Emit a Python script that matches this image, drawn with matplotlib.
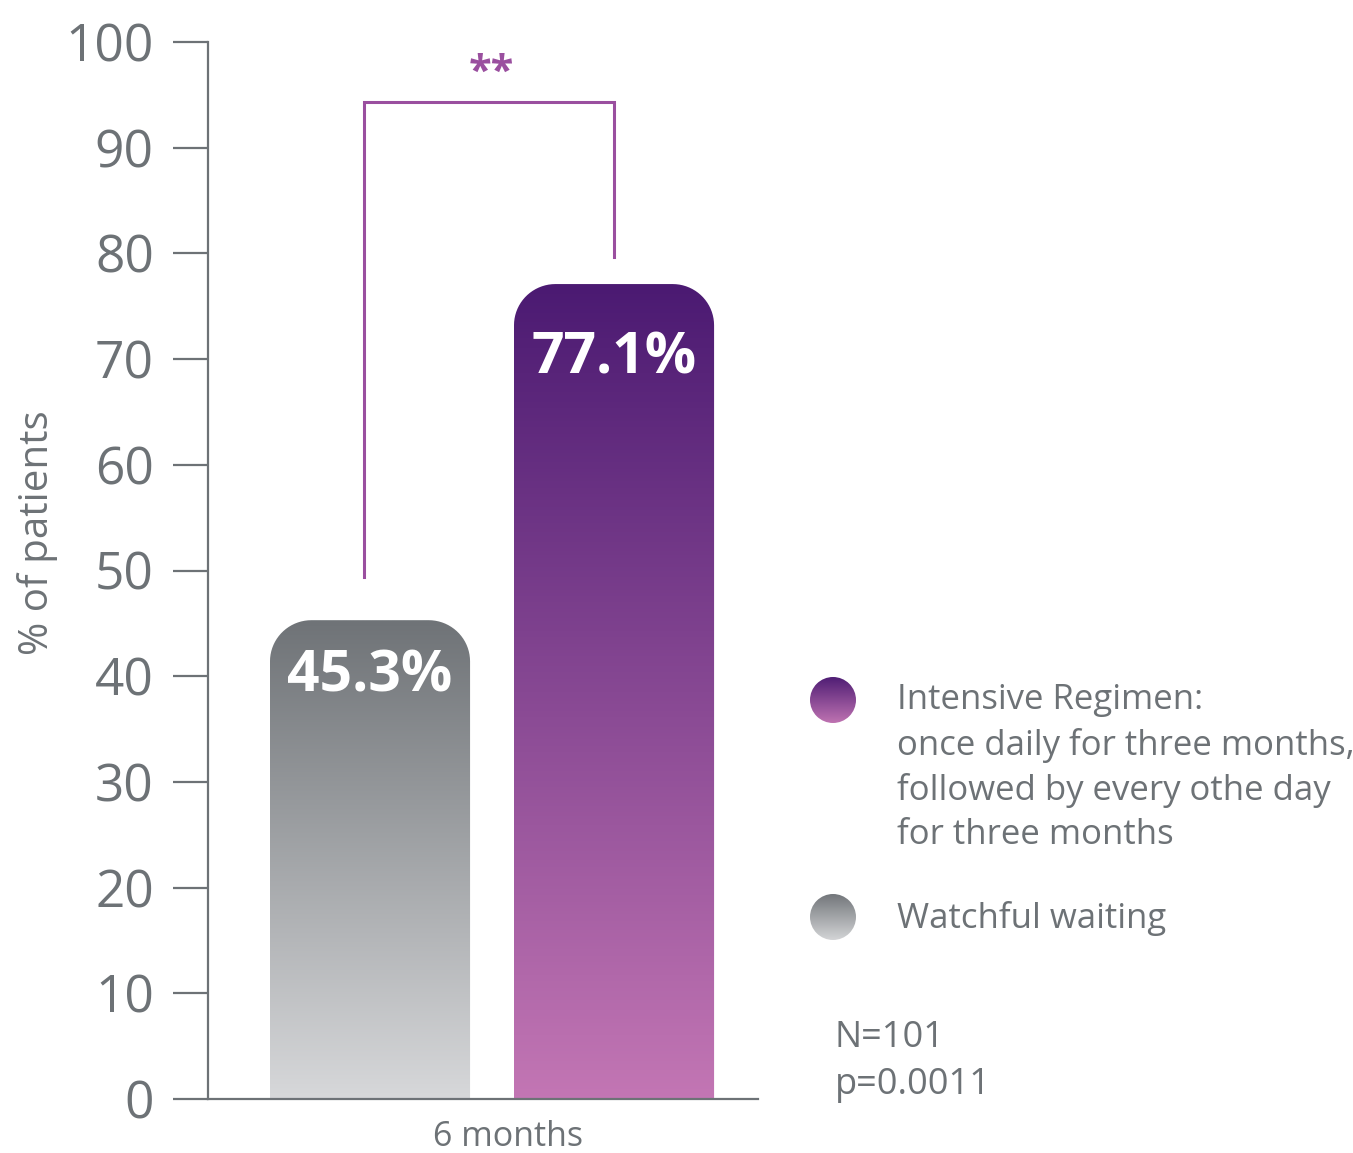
import matplotlib.pyplot as plt
import numpy as np
from matplotlib.path import Path
from matplotlib.patches import PathPatch, Circle
from matplotlib.colors import LinearSegmentedColormap

plt.rcParams['font.family'] = ['Open Sans', 'DejaVu Sans']

# dados
grupos = ["Watchful waiting", "Intensive Regimen"]
valores = [45.3, 77.1]
rotulos = ["45.3%", "77.1%"]
categoria = "6 months"
legenda = ["Intensive Regimen:\nonce daily for three months,\nfollowed by every othe day\nfor three months",
           "Watchful waiting"]
nota = "N=101\np=0.0011"
signif = "**"

cinza = "#6d7276"
grad_cinza = ["#d7d8da", "#6f7377"]
grad_roxo = ["#c376b4", "#4b1a72"]
roxo_linha = "#9a4f9f"

fig = plt.figure(figsize=(13.53, 11.53), dpi=100)
ax = fig.add_axes([208 / 1353, 54 / 1153, 550 / 1353, 1057 / 1153])
ax.set_xlim(-0.664, 1.59)
ax.set_ylim(0, 100)

largura = 0.82
rx, ry = 0.17, 3.9  # raio dos cantos em unidades de dados
desloc_rotulo = [5.3, 7.0]  # distancia do rotulo ao topo da barra


def barra_arredondada(x0, h):
    x1 = x0 + largura
    t = np.linspace(0, np.pi / 2, 20)
    esq = [(x0 + rx - rx * np.cos(a), h - ry + ry * np.sin(a)) for a in t]
    dir_ = [(x1 - rx + rx * np.sin(a), h - ry + ry * np.cos(a)) for a in t]
    verts = [(x0, 0)] + esq + dir_ + [(x1, 0), (x0, 0)]
    codes = [Path.MOVETO] + [Path.LINETO] * (len(verts) - 2) + [Path.CLOSEPOLY]
    return Path(verts, codes)


for i, (v, rot, cores) in enumerate(zip(valores, rotulos, [grad_cinza, grad_roxo])):
    x0 = i - largura / 2
    patch = PathPatch(barra_arredondada(x0, v), facecolor="none", edgecolor="none")
    ax.add_patch(patch)
    cmap = LinearSegmentedColormap.from_list("g%d" % i, cores)
    grad = np.linspace(0, 1, 256).reshape(-1, 1)
    im = ax.imshow(grad, cmap=cmap, origin="lower", aspect="auto",
                   extent=[x0, x0 + largura, 0, v], zorder=2)
    im.set_clip_path(patch)
    ax.text(i, v - desloc_rotulo[i], rot, ha="center", va="center", color="white",
            fontsize=41, fontweight="bold", zorder=3)

ax.set_xlim(-0.664, 1.59)
ax.set_ylim(0, 100)

# colchete de significancia
ax.plot([-0.025, -0.025, 1.0, 1.0], [49.4, 94.3, 94.3, 79.7], color=roxo_linha, lw=2.2,
        solid_joinstyle="miter")
ax.text(0.496, 97.0, signif, ha="center", va="center", color=roxo_linha,
        fontsize=30, fontweight="bold")

for s in ["top", "right"]:
    ax.spines[s].set_visible(False)
for s in ["left", "bottom"]:
    ax.spines[s].set_color(cinza)
    ax.spines[s].set_linewidth(1.6)

ax.set_yticks(range(0, 101, 10))
ax.tick_params(axis="y", length=25, width=1.6, color=cinza, labelcolor=cinza,
               labelsize=37, pad=14)
ax.set_xticks([0.565])
ax.set_xticklabels([categoria])
ax.tick_params(axis="x", length=0, labelcolor=cinza, labelsize=24.5, pad=15)

fig.text(38 / 1353, 1 - 533 / 1153, "% of patients", rotation=90, ha="center", va="center",
         color=cinza, fontsize=29)

# legenda com circulos em degrade
for cy, cores in [(700, grad_roxo), (917, grad_cinza)]:
    cax = fig.add_axes([(833 - 25) / 1353, (1153 - cy - 25) / 1153, 50 / 1353, 50 / 1153])
    cax.set_xlim(-1, 1)
    cax.set_ylim(-1, 1)
    cax.axis("off")
    cmap = LinearSegmentedColormap.from_list("c", cores)
    im = cax.imshow(np.linspace(0, 1, 128).reshape(-1, 1), cmap=cmap, origin="lower",
                    aspect="auto", extent=[-1, 1, -1, 1])
    circ = Circle((0, 0), 0.92, transform=cax.transData, facecolor="none", edgecolor="none")
    cax.add_patch(circ)
    im.set_clip_path(circ)

fig.text(897 / 1353, 1 - 683 / 1153, legenda[0], ha="left", va="top", color=cinza,
         fontsize=25, linespacing=1.39)
fig.text(897 / 1353, 1 - 918 / 1153, legenda[1], ha="left", va="center", color=cinza,
         fontsize=25)
fig.text(835 / 1353, 1 - 1020 / 1153, nota, ha="left", va="top", color=cinza,
         fontsize=26, linespacing=1.39)

fig.savefig("out.png", dpi=100)
